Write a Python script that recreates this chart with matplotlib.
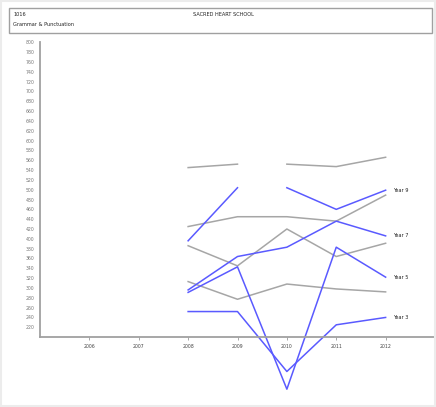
import matplotlib
matplotlib.use("Agg")
import matplotlib.pyplot as plt
from matplotlib.patches import Rectangle

# --- data ---
years = [2008, 2009, 2010, 2011, 2012]
years_early = [2008, 2009]
years_late = [2010, 2011, 2012]
tick_years = [2006, 2007, 2008, 2009, 2010, 2011, 2012]

# school results (blue)
year9_early = [396, 504]
year9_late = [504, 460, 499]
year7 = [296, 364, 383, 436, 406]
year5 = [291, 343, 94, 383, 322]
year3 = [252, 252, 130, 225, 240]

# comparison lines (grey)
grey9_early = [545, 552]
grey9_late = [552, 547, 566]
grey7 = [425, 445, 445, 436, 489]
grey5 = [386, 345, 420, 364, 391]
grey3 = [313, 277, 308, 298, 292]

labels = ["Year 9", "Year 7", "Year 5", "Year 3"]
label_values = [year9_late[-1], year7[-1], year5[-1], year3[-1]]

BLUE = "#5a5aff"
GREY = "#a6a6a6"

fig = plt.figure(figsize=(4.36, 4.07), dpi=100)
fig.patch.set_facecolor("white")

# outer frame + header box
fig.patches.append(Rectangle((0.002, 0.002), 0.996, 0.996, transform=fig.transFigure,
                             fill=False, edgecolor="#ececec", linewidth=1.5))
fig.patches.append(Rectangle((9 / 436, 1 - 33 / 407), 423 / 436, 25 / 407,
                             transform=fig.transFigure, fill=False,
                             edgecolor="#a0a0a0", linewidth=1.0))
fig.text(13 / 436, 1 - 15 / 407, "1016", fontsize=3.6, va="center", ha="left", color="#222222")
fig.text(13 / 436, 1 - 25 / 407, "Grammar & Punctuation", fontsize=3.6, va="center", ha="left",
         color="#222222")
fig.text(223 / 436, 1 - 15 / 407, "SACRED HEART SCHOOL", fontsize=3.6, va="center", ha="center",
         color="#222222")

ax = fig.add_axes([40 / 436, 1 - 337.1 / 407, 395 / 436, 294.8 / 407])
ax.set_xlim(2005, 2013)
ax.set_ylim(200, 800)

lw = 1.1
for xs, ys in [(years_early, grey9_early), (years_late, grey9_late),
               (years, grey7), (years, grey5), (years, grey3)]:
    ax.plot(xs, ys, color=GREY, linewidth=lw, clip_on=False)
for xs, ys in [(years_early, year9_early), (years_late, year9_late),
               (years, year7), (years, year5), (years, year3)]:
    ax.plot(xs, ys, color=BLUE, linewidth=lw, clip_on=False)

for lab, v in zip(labels, label_values):
    ax.annotate(lab, (years[-1], v), xytext=(5, 0), textcoords="offset points",
                fontsize=3.6, va="center", ha="left", color="#222222")

ax.set_xticks(tick_years)
ax.set_xticklabels([str(y) for y in tick_years], fontsize=3.3, color="#444444")
ax.set_yticks(range(220, 801, 20))
ax.set_yticklabels([str(v) for v in range(220, 801, 20)], fontsize=3.3, color="#777777")
ax.tick_params(axis="x", length=2, width=0.6, color="#999999", pad=3)
ax.tick_params(axis="y", length=0, pad=4)

for side in ["top", "right"]:
    ax.spines[side].set_visible(False)
for side in ["left", "bottom"]:
    ax.spines[side].set_color("#a0a0a0")
    ax.spines[side].set_linewidth(1.3)

fig.savefig("out.png", dpi=100)
